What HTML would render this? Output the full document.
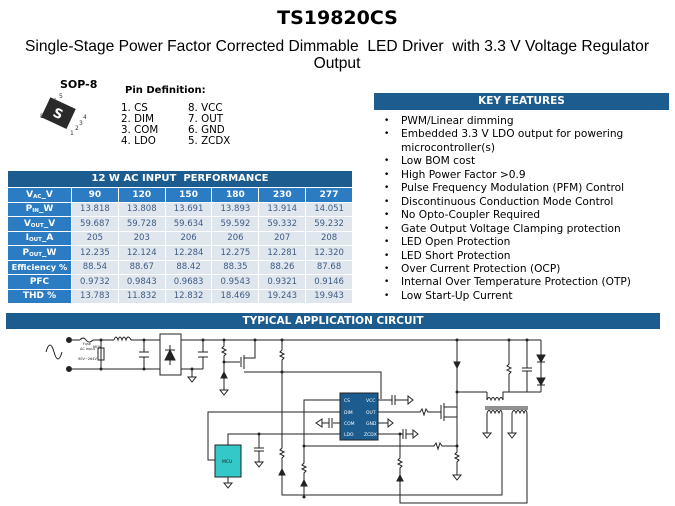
<!DOCTYPE html>
<html><head><meta charset="utf-8"><style>
*{margin:0;padding:0;box-sizing:border-box}
body{width:675px;height:506px;background:#fff;position:relative;overflow:hidden;font-family:"DejaVu Sans","Liberation Sans",sans-serif;color:#000}
.a{position:absolute}
#title{left:0;width:675px;top:7px;text-align:center;font-weight:bold;font-size:19px;font-family:"DejaVu Sans",sans-serif}
#sub{left:17px;width:640px;top:38px;text-align:center;font-size:15.6px;line-height:17px;font-family:"Liberation Sans",sans-serif}
.bar{background:#1d5c8e;color:#fff;font-weight:bold;text-align:center;font-size:10.5px}
table{border-collapse:collapse;position:absolute;left:7px;top:170px;width:346px;table-layout:fixed}
td{border:1px solid #fff;height:14.5px;line-height:12px;font-size:8.5px;text-align:center;color:#3d5c85;background:#dfe6ee;padding:0;white-space:nowrap;overflow:hidden}
td.h{background:#2b7cc3;color:#fff;font-weight:bold;font-size:9px}
sub{font-size:5.5px;line-height:0;vertical-align:-1px}
tr.t td{background:#1d5c8e;color:#fff;font-weight:bold;font-size:10px;height:17px}
ul{position:absolute;left:384px;top:115px;list-style:none;font-size:10.6px;line-height:13.45px;font-family:"DejaVu Sans",sans-serif}
ul li{padding-left:17px;position:relative}
ul li:before{content:"•";position:absolute;left:0;font-size:9px}
.pin{font-size:10.3px;line-height:11px;font-family:"DejaVu Sans",sans-serif}
</style></head><body>
<div id="title" class="a">TS19820CS</div>
<div id="sub" class="a">Single-Stage Power Factor Corrected Dimmable&nbsp; LED Driver&nbsp; with 3.3 V Voltage Regulator Output</div>

<div class="a" style="left:60px;top:78px;font-weight:bold;font-size:11px">SOP-8</div>
<svg class="a" style="left:34px;top:92px" width="80" height="45" viewBox="0 0 80 45">
<g transform="rotate(25 24 22)"><rect x="10" y="10" width="28" height="22" fill="#2a2a2a"/><text x="24" y="26" fill="#fff" font-size="13" font-weight="bold" text-anchor="middle" font-family="DejaVu Sans">S</text></g>
<g font-size="6" fill="#333" font-family="DejaVu Sans"><text x="25" y="6">5</text><text x="19" y="11">6</text><text x="13" y="18">7</text><text x="6" y="26">8</text><text x="49" y="27">4</text><text x="45" y="33">3</text><text x="41" y="38">2</text><text x="36" y="43">1</text></g>
</svg>
<div class="a" style="left:125px;top:85px;font-weight:bold;font-size:10px">Pin Definition:</div>
<div class="a pin" style="left:121px;top:103px">1. CS<br>2. DIM<br>3. COM<br>4. LDO</div>
<div class="a pin" style="left:188px;top:103px">8. VCC<br>7. OUT<br>6. GND<br>5. ZCDX</div>

<table>
<colgroup><col style="width:64px"><col><col><col><col><col><col></colgroup>
<tr class="t"><td colspan="7">12 W AC INPUT&nbsp; PERFORMANCE</td></tr>
<tr><td class="h">V<sub>AC</sub>_V</td><td class="h">90</td><td class="h">120</td><td class="h">150</td><td class="h">180</td><td class="h">230</td><td class="h">277</td></tr>
<tr><td class="h">P<sub>IN</sub>_W</td><td>13.818</td><td>13.808</td><td>13.691</td><td>13.893</td><td>13.914</td><td>14.051</td></tr>
<tr><td class="h">V<sub>OUT</sub>_V</td><td>59.687</td><td>59.728</td><td>59.634</td><td>59.592</td><td>59.332</td><td>59.232</td></tr>
<tr><td class="h">I<sub>OUT</sub>_A</td><td>205</td><td>203</td><td>206</td><td>206</td><td>207</td><td>208</td></tr>
<tr><td class="h">P<sub>OUT</sub>_W</td><td>12.235</td><td>12.124</td><td>12.284</td><td>12.275</td><td>12.281</td><td>12.320</td></tr>
<tr><td class="h" style="font-size:8.3px">Efficiency %</td><td>88.54</td><td>88.67</td><td>88.42</td><td>88.35</td><td>88.26</td><td>87.68</td></tr>
<tr><td class="h">PFC</td><td>0.9732</td><td>0.9843</td><td>0.9683</td><td>0.9543</td><td>0.9321</td><td>0.9146</td></tr>
<tr><td class="h">THD %</td><td>13.783</td><td>11.832</td><td>12.832</td><td>18.469</td><td>19.243</td><td>19.943</td></tr>
</table>

<div class="a bar" style="left:374px;top:93px;width:295px;height:17px;line-height:17px">KEY FEATURES</div>
<ul>
<li>PWM/Linear dimming</li>
<li>Embedded 3.3 V LDO output for powering<br>microcontroller(s)</li>
<li>Low BOM cost</li>
<li>High Power Factor &gt;0.9</li>
<li>Pulse Frequency Modulation (PFM) Control</li>
<li>Discontinuous Conduction Mode Control</li>
<li>No Opto-Coupler Required</li>
<li>Gate Output Voltage Clamping protection</li>
<li>LED Open Protection</li>
<li>LED Short Protection</li>
<li>Over Current Protection (OCP)</li>
<li>Internal Over Temperature Protection (OTP)</li>
<li>Low Start-Up Current</li>
</ul>

<div class="a bar" style="left:6px;top:313px;width:654px;height:16px;line-height:16px">TYPICAL APPLICATION CIRCUIT</div>

<svg class="a" style="left:0;top:0" width="675" height="506" viewBox="0 0 675 506">
<g stroke="#222" stroke-width="1" fill="none">
<path d="M46 352 q4 -14 8 0 t8 0"/>
<circle cx="69" cy="340" r="2.5" fill="#222"/><circle cx="69" cy="369" r="2.5" fill="#222"/>
<path d="M72 340 H80 M93 340 H114 M131 340 H160 M72 369 H160"/>
<path d="M80 340 q3 -4 6 0 q3 4 7 0"/>
<path d="M101 340 V369"/><rect x="98" y="348" width="6" height="12"/>
<path d="M114 340 q2 -6 4 0 q2 -6 4 0 q2 -6 4 0 q2 -6 5 0"/>
<path d="M144 340 V352 M144 357 V369 M139 352 H149 M139 357 H149"/>
<rect x="160" y="334" width="21" height="41"/>
<path d="M170 345 V365 M165 350 H175"/><path d="M165 360 L170 350 L175 360 Z" fill="#222"/>
<path d="M181 340 H541 M181 369 H203"/>
<path d="M203 340 V352 M203 357 V369 M198 352 H208 M198 357 H208"/>
<path d="M192 369 V377 M188 377 H196 L192 382 Z"/>
<path d="M224 340 V346 l-2 2 4 2 -4 2 4 2 -2 2 V372 M224 378 V390 M220 390 H228 L224 395 Z"/>
<path d="M221 378 L224 372 L227 378 Z" fill="#222"/>
<path d="M224 362 H240 M241 357 V367 M244 355 V369 M244 358 H255 V340 M244 372 H381 V399"/>
<path d="M282 340 V350 l-2 2 4 2 -4 2 4 2 -2 2 V448 l-2 2 4 2 -4 2 4 2 -2 2 V469 M282 475 V495 H502 V413"/>
<path d="M279 475 L282 469 L285 475 Z" fill="#222"/>
<rect x="340" y="393" width="38" height="47" fill="#1d5c8e" stroke="#222"/>
<path d="M340 400 H304 V463 l-2 2 4 2 -4 2 4 2 -2 2 V480 M304 486 V497"/>
<path d="M301 486 L304 480 L307 486 Z" fill="#222"/>
<path d="M304 446 H434 l2 -3 2 6 2 -6 2 3 H457"/>
<path d="M340 412 H208 V460 H215"/>
<path d="M340 434 H228 V445"/>
<path d="M259 434 V448 M254 448 H264 M254 451 H264 M259 451 V462 M255 462 H263 L259 467 Z"/>
<path d="M340 423 H333 M329 418 V428 M332 418 V428 M329 423 H322 M322 419 V427 L316 423 Z"/>
<path d="M378 400 H392 M392 395 V405 M395 395 V405 M395 400 H408 M408 396 V404 L413 400 Z"/>
<path d="M378 423 H388 M388 419 V427 L393 423 Z"/>
<path d="M378 434 H400 M400 434 V458 l-2 2 4 2 -4 2 4 2 -2 2 V475 M400 481 V503 H527 V413 M400 434 H403 M403 429 V439 M406 429 V439 M406 434 H413 M413 430 V438 L418 434 Z"/>
<path d="M397 481 L400 475 L403 481 Z" fill="#222"/>
<path d="M378 412 H420 l2 -3 2 6 2 -6 2 3 H441"/>
<path d="M441 405 V419 M444 403 V421 M444 407 H457 M444 417 H457 M457 340 V362 M457 368 V417 V452 l-2 2 4 2 -4 2 4 2 -2 2 V475 M453 475 H461 L457 480 Z"/>
<path d="M454 362 L457 368 L460 362 Z" fill="#222"/>
<path d="M457 392 H487 M487 392 V400 q2 -5 4 0 q2 -5 4 0 q2 -5 4 0 q2 -5 4 0 V392 H541"/>
<path d="M485 407 H528 M485 409 H528"/>
<path d="M487 413 q2 -5 4 0 q2 -5 4 0 q2 -5 4 0 q2 -5 3 0 M487 413 V433 M483 433 H491 L487 438 Z"/>
<path d="M512 413 q2 -5 4 0 q2 -5 4 0 q2 -5 4 0 q2 -5 3 0 M512 413 V433 M508 433 H516 L512 438 Z"/>
<path d="M509 340 V364 l-2 2 4 2 -4 2 4 2 -2 2 V392 M527 340 V368 M522 368 H532 M522 371 H532 M527 371 V392 M541 340 V392"/>
<path d="M537 355 L545 355 L541 362 Z M537 378 L545 378 L541 385 Z" fill="#222"/>
<path d="M537 362 H545 M537 385 H545"/>
</g>
<g fill="#222"><circle cx="101" cy="340" r="1.5"/><circle cx="101" cy="369" r="1.5"/><circle cx="144" cy="340" r="1.5"/><circle cx="144" cy="369" r="1.5"/><circle cx="203" cy="340" r="1.5"/><circle cx="224" cy="340" r="1.5"/><circle cx="255" cy="340" r="1.5"/><circle cx="282" cy="340" r="1.5"/><circle cx="282" cy="372" r="1.5"/><circle cx="457" cy="340" r="1.5"/><circle cx="509" cy="340" r="1.5"/><circle cx="527" cy="340" r="1.5"/><circle cx="457" cy="392" r="1.5"/><circle cx="304" cy="446" r="1.5"/><circle cx="457" cy="446" r="1.5"/><circle cx="259" cy="434" r="1.5"/><circle cx="192" cy="369" r="1.5"/><circle cx="224" cy="362" r="1.5"/><circle cx="304" cy="497" r="1.5"/><circle cx="400" cy="434" r="1.5"/></g>
<rect x="215" y="445" width="26" height="32" fill="#35c8c8" stroke="#222"/>
<path d="M228 477 V483 M224 483 H232 L228 488 Z" stroke="#222" fill="none"/>
<g font-family="DejaVu Sans" font-size="4.5" fill="#fff"><text x="344" y="402">CS</text><text x="344" y="414">DIM</text><text x="344" y="425">COM</text><text x="344" y="436">LDO</text><text x="366" y="402">VCC</text><text x="366" y="414">OUT</text><text x="366" y="425">GND</text><text x="364" y="436">ZCDX</text></g>
<text x="222" y="463" font-size="4.5" font-family="DejaVu Sans" fill="#222">MCU</text>
<g font-family="DejaVu Sans" font-size="3.5" fill="#222"><text x="80" y="350">AC Input</text><text x="78" y="360">90V~264V</text><text x="83" y="345">Fuse</text><text x="93" y="348">MOV</text></g>
</svg>
</body></html>
